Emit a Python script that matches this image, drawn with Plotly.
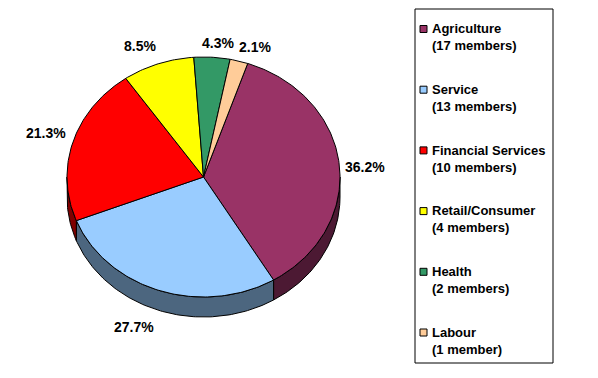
import math
import plotly.graph_objects as go

# ---------------- data ----------------
categories = ["Agriculture", "Service", "Financial Services", "Retail/Consumer", "Health", "Labour"]
members = [17, 13, 10, 4, 2, 1]
member_labels = ["(17 members)", "(13 members)", "(10 members)", "(4 members)", "(2 members)", "(1 member)"]

# ---------------- style / layout ----------------
top_colors = ["#993366", "#99CCFF", "#FF0000", "#FFFF00", "#339966", "#FFCC99"]
side_colors = ["#4C1933", "#4C667F", "#7F0000", "#7F7F00", "#194C33", "#7F664C"]
label_shift = [(26, 2.5), (-25, 36.5), (-27, -9), (-18, -18), (6, -14), (16, -14)]

W, H = 598, 378            # window size
PAGE_OFF = 8               # default page body margin
CX, CY = 203.5, 177.0      # pie centre (screen px)
RX, RY = 136.5, 120.0      # ellipse radii (px)
DEPTH = 20.0               # 3-D thickness (px)
START = 18.9               # first slice start, degrees clockwise from top
FONT = "Arial, Liberation Sans, sans-serif"

LEG_X0, LEG_X1, LEG_Y0, LEG_Y1 = 415, 553, 9, 363
LEG_FIRST_Y, LEG_STEP = 29, 60.7

total = sum(members)


def pt(theta_deg, dy=0.0):
    t = math.radians(theta_deg)
    return CX + RX * math.sin(t), CY - RY * math.cos(t) + dy


def arc(a, b, dy=0.0, n_per_deg=1.0):
    n = max(2, int(abs(b - a) * n_per_deg) + 1)
    return [pt(a + (b - a) * i / (n - 1), dy) for i in range(n)]


fig = go.Figure()

# slice angle ranges
ranges = []
acc = START
for v in members:
    span = v / total * 360.0
    ranges.append((acc, acc + span))
    acc += span

# side faces (visible for angles between 90 and 270 degrees)
for (a, b), col in zip(ranges, side_colors):
    for off in (0.0, 360.0):
        lo = max(a - off, 90.0)
        hi = min(b - off, 270.0)
        if hi <= lo:
            continue
        top = arc(lo, hi)
        bot = arc(hi, lo, DEPTH)
        pts = top + bot + [top[0]]
        fig.add_trace(go.Scatter(
            x=[p[0] for p in pts], y=[p[1] for p in pts],
            mode="lines", fill="toself", fillcolor=col,
            line=dict(color="black", width=1),
            hoverinfo="skip", showlegend=False))

# top faces
for (a, b), col, name in zip(ranges, top_colors, categories):
    pts = [(CX, CY)] + arc(a, b) + [(CX, CY)]
    fig.add_trace(go.Scatter(
        x=[p[0] for p in pts], y=[p[1] for p in pts],
        mode="lines", fill="toself", fillcolor=col,
        line=dict(color="black", width=1),
        name=name, hoverinfo="name", showlegend=False))

annotations = []
# percentage labels
for (a, b), v, (sx, sy) in zip(ranges, members, label_shift):
    mx, my = pt((a + b) / 2.0)
    annotations.append(dict(
        x=mx + sx, y=my + sy, xref="x", yref="y",
        text=f"{v / total * 100:.1f}%", showarrow=False,
        xanchor="center", yanchor="middle",
        font=dict(family=FONT, size=14, color="black", weight="bold")))

shapes = [dict(type="rect", xref="x", yref="y",
               x0=LEG_X0, x1=LEG_X1, y0=LEG_Y0, y1=LEG_Y1,
               line=dict(color="black", width=1), fillcolor="white", layer="below")]

# legend entries
for i, (name, ml, col) in enumerate(zip(categories, member_labels, top_colors)):
    yc = LEG_FIRST_Y + i * LEG_STEP
    shapes.append(dict(type="rect", xref="x", yref="y",
                       x0=420, x1=427, y0=yc - 3.5, y1=yc + 3.5,
                       line=dict(color="black", width=1), fillcolor=col))
    annotations.append(dict(
        x=430, y=yc + 8.3, xref="x", yref="y",
        text=f"{name}<br>{ml}", showarrow=False, align="left",
        xanchor="left", yanchor="middle",
        font=dict(family=FONT, size=13, color="black", weight="bold")))

fig.update_layout(
    width=W - PAGE_OFF, height=H - PAGE_OFF,
    margin=dict(l=0, r=0, t=0, b=0),
    paper_bgcolor="white", plot_bgcolor="white",
    xaxis=dict(range=[PAGE_OFF, W], visible=False, fixedrange=True),
    yaxis=dict(range=[H, PAGE_OFF], visible=False, fixedrange=True),
    showlegend=False,
    annotations=annotations,
    shapes=shapes,
)

fig.write_html("out.html")
